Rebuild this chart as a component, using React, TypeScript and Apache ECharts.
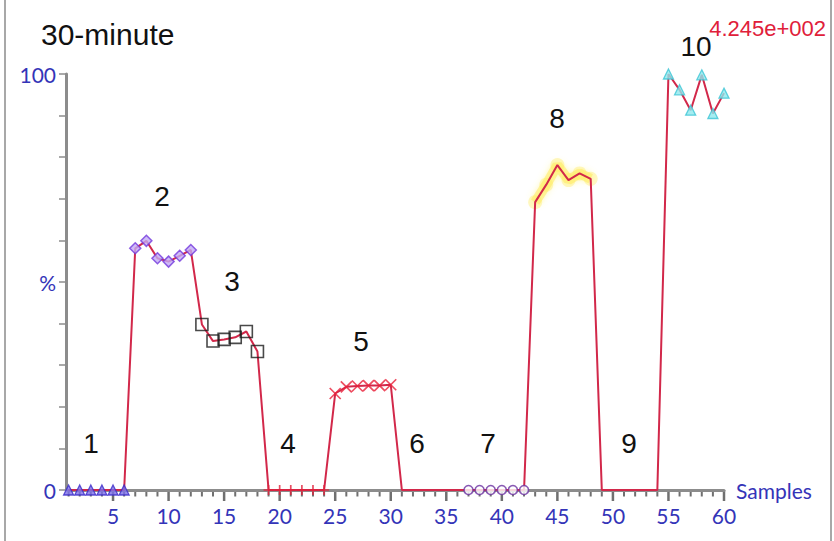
import React, { useEffect, useRef } from "react";
import * as echarts from "echarts";

const titleText = "30-minute";
const scaleNote = "4.245e+002";
const xName = "Samples";

// values per group of 6 samples (samples 1..60)
const g1 = [0, 0, 0, 0, 0, 0];
const g2 = [58.1, 59.9, 55.7, 54.9, 56.3, 57.7];
const g3 = [39.8, 35.8, 36.2, 36.7, 38.1, 33.3];
const g4 = [0, 0, 0, 0, 0, 0];
const g5 = [23.2, 24.8, 25.0, 25.1, 25.1, 25.3];
const g6 = [0, 0, 0, 0, 0, 0];
const g7 = [0, 0, 0, 0, 0, 0];
const g8 = [69.2, 73.4, 78.1, 74.5, 76.1, 74.8];
const g9 = [0, 0, 0, 0, 0, 0];
const g10 = [100, 96.2, 91.3, 99.8, 90.5, 95.4];
const groups = [g1, g2, g3, g4, g5, g6, g7, g8, g9, g10];
const groupLabels = ["1", "2", "3", "4", "5", "6", "7", "8", "9", "10"];

const yTickLabels: Record<number, string> = { 0: "0", 50: "%", 100: "100" };
const sampleCats = Array.from({ length: 60 }, (_, i) => String(i + 1));
const majorEvery = 5;

const RED = "#d2284a";
const BLUE = "#3434b8";
const GRAY = "#8c8c8c";
const TICK = "#707070";

// marker styles per group (null = no markers)
const markerStyles: any[] = [
  { symbol: "triangle", symbolSize: 10, itemStyle: { color: "#7d70ea", borderColor: "#3a2ac8", borderWidth: 1.3 } },
  { symbol: "diamond", symbolSize: 11, itemStyle: { color: "#c2aaf6", borderColor: "#7338dc", borderWidth: 1.5 } },
  { symbol: "rect", symbolSize: 12, itemStyle: { color: "rgba(255,255,255,0)", borderColor: "#1c1c1c", borderWidth: 1.6 } },
  { symbol: "path://M5,0L5,10M0,5L10,5", symbolSize: 10, itemStyle: { color: "rgba(0,0,0,0)", borderColor: "#e0203a", borderWidth: 1.7 } },
  { symbol: "path://M0,0L10,10M10,0L0,10", symbolSize: 11, itemStyle: { color: "rgba(0,0,0,0)", borderColor: "#e8203a", borderWidth: 1.7 } },
  null,
  { symbol: "circle", symbolSize: 9, itemStyle: { color: "#ffffff", borderColor: "#6a2fa0", borderWidth: 1.6 } },
  { symbol: "circle", symbolSize: 14, itemStyle: { color: "rgba(255,236,90,0.45)" }, z: 1 },
  null,
  { symbol: "triangle", symbolSize: 10, itemStyle: { color: "#8ee8ee", borderColor: "#3cc4d4", borderWidth: 1.3 } },
];

// annotation label positions (pixels)
const labelPos: [number, number][] = [
  [91, 443], [162, 196], [232, 281], [288, 443], [361, 341],
  [417, 443], [488, 443], [557, 118], [629, 443], [696, 46],
];

export default function App() {
  const ref = useRef<HTMLDivElement>(null);
  useEffect(() => {
    if (!ref.current) return;
    const chart = echarts.init(ref.current, null, { renderer: "svg" });

    const allValues: number[] = [];
    groups.forEach((g) => g.forEach((v) => allValues.push(v)));

    const series: any[] = [];
    // tick marks below the x axis, placed through the category scale (long every 5 samples)
    series.push({
      type: "custom",
      data: sampleCats.map((c, i) => [i, 0]),
      clip: false,
      silent: true,
      z: 0,
      renderItem: (params: any, api: any) => {
        const idx = api.value(0);
        const p = api.coord([idx, 0]);
        const major = (idx + 1) % majorEvery === 0;
        return {
          type: "rect",
          shape: { x: p[0] - (major ? 1.25 : 1), y: p[1], width: major ? 2.5 : 2, height: major ? 11 : 6.5 },
          style: { fill: TICK },
        };
      },
    });
    // yellow halo line for group 8
    series.push({
      type: "line",
      data: g8.map((v, i) => [sampleCats[7 * 6 + i], v]),
      symbol: "none",
      lineStyle: { color: "rgba(255,236,90,0.5)", width: 10, shadowBlur: 6, shadowColor: "rgba(255,236,70,0.8)" },
      z: 1,
      silent: true,
    });
    series.push({
      type: "line",
      data: allValues,
      symbol: "none",
      lineStyle: { color: RED, width: 2 },
      z: 2,
      silent: true,
    });
    groups.forEach((g, gi) => {
      const ms = markerStyles[gi];
      if (!ms) return;
      series.push({
        type: "scatter",
        data: g.map((v, i) => [sampleCats[gi * 6 + i], v]),
        z: 3,
        ...ms,
        silent: true,
      });
    });

    const labelFont = "Liberation Sans, Arial, sans-serif";
    const graphics: any[] = [
      { type: "line", shape: { x1: 5, y1: 0, x2: 5, y2: 541 }, style: { stroke: "#a8a8a8", lineWidth: 2 } },
      { type: "line", shape: { x1: 831, y1: 0, x2: 831, y2: 541 }, style: { stroke: "#a8a8a8", lineWidth: 2 } },
      {
        type: "text", x: 41, y: 34,
        style: { text: titleText, fill: "#111", font: `30px ${labelFont}`, textAlign: "left", align: "left", textVerticalAlign: "middle", verticalAlign: "middle" },
      },
      {
        type: "text", x: 826, y: 28,
        style: { text: scaleNote, fill: "#e0203a", font: `22px ${labelFont}`, textAlign: "right", align: "right", textVerticalAlign: "middle", verticalAlign: "middle" },
      },
      ...groupLabels.map((t, i) => ({
        type: "text", x: labelPos[i][0], y: labelPos[i][1],
        style: { text: t, fill: "#111", font: `28px ${labelFont}`, textAlign: "center", align: "center", textVerticalAlign: "middle", verticalAlign: "middle" },
      })),
    ];

    const isMajor = (index: number) => (index + 1) % majorEvery === 0;

    chart.setOption({
      animation: false,
      backgroundColor: "#ffffff",
      grid: { left: 68.6, right: 110, top: 74, bottom: 51, containLabel: false, outerBoundsMode: "none" },
      xAxis: {
        type: "category",
        data: sampleCats,
        boundaryGap: false,
        position: "bottom",
        axisLine: { show: true, onZero: false, lineStyle: { color: GRAY, width: 3 } },
        axisTick: { show: false },
        axisLabel: { show: true, interval: isMajor, color: BLUE, fontSize: 21, fontFamily: "Lato, sans-serif", margin: 15 },
        splitLine: { show: false },
        name: xName,
        nameLocation: "end",
        nameGap: 12,
        nameTextStyle: { color: BLUE, fontSize: 21, fontFamily: "Lato, sans-serif", verticalAlign: "middle", padding: [6, 0, 0, 0] },
      },
      yAxis: {
        type: "value",
        min: 0,
        max: 100,
        interval: 10,
        offset: 2.6,
        axisLine: { show: true, onZero: false, lineStyle: { color: GRAY, width: 3 } },
        axisTick: { show: true, length: 7, lineStyle: { color: GRAY, width: 1.5 } },
        axisLabel: {
          color: BLUE,
          fontSize: 21,
          fontFamily: "Lato, sans-serif",
          margin: 10,
          formatter: (v: number) => yTickLabels[v] ?? "",
        },
        splitLine: { show: false },
      },
      series,
      graphic: graphics,
    });
    return () => chart.dispose();
  }, []);
  return <div ref={ref} style={{ position: "fixed", left: 0, top: 0, width: 834, height: 541 }} />;
}
